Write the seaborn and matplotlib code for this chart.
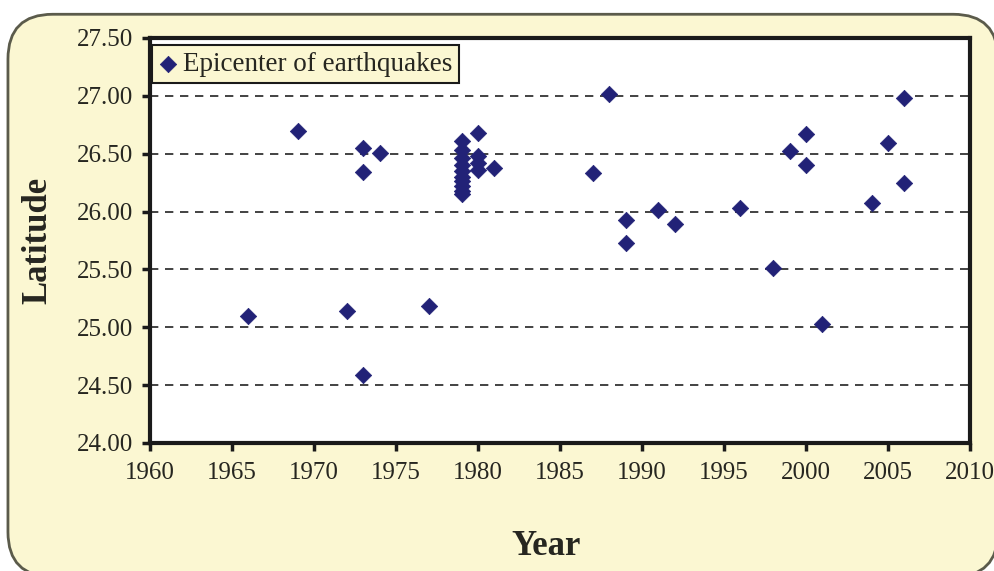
import matplotlib
matplotlib.use("Agg")
import matplotlib.pyplot as plt
import seaborn as sns
import pandas as pd
from matplotlib.patches import FancyBboxPatch

years = [1966, 1969, 1972, 1973, 1973, 1973, 1974, 1977,
         1979, 1979, 1979, 1979, 1979, 1979, 1979, 1979, 1979, 1979,
         1980, 1980, 1980, 1980, 1981,
         1987, 1988, 1989, 1989, 1991, 1992, 1996, 1998, 1999,
         2000, 2000, 2001, 2004, 2005, 2006, 2006]
latitude = [25.10, 26.70, 25.14, 26.55, 26.34, 24.59, 26.51, 25.18,
            26.61, 26.53, 26.46, 26.40, 26.35, 26.30, 26.26, 26.22, 26.18, 26.15,
            26.68, 26.48, 26.42, 26.36, 26.38,
            26.33, 27.02, 25.93, 25.73, 26.01, 25.89, 26.03, 25.51, 26.52,
            26.67, 26.40, 25.03, 26.07, 26.59, 26.98, 26.25]
yticks = [24.00, 24.50, 25.00, 25.50, 26.00, 26.50, 27.00, 27.50]
xticks = [1960, 1965, 1970, 1975, 1980, 1985, 1990, 1995, 2000, 2005, 2010]

df = pd.DataFrame({"Year": years, "Latitude": latitude})

sns.set_theme(style="white")
plt.rcParams["font.family"] = ["Liberation Serif", "DejaVu Serif"]

bg = "#FBF7D2"
txt = "#262620"
fig = plt.figure(figsize=(9.95, 5.71), dpi=100)
fig.patch.set_facecolor("white")
fig.patches.append(FancyBboxPatch((0.008, -0.01), 0.995, 0.985,
                                  boxstyle="round,pad=0,rounding_size=0.045",
                                  transform=fig.transFigure, facecolor=bg,
                                  edgecolor="#5b5b4b", linewidth=2.0,
                                  mutation_aspect=995/571, zorder=-10))

ax = fig.add_axes([0.1508, 0.2242, 0.824, 0.7093])
ax.set_facecolor("white")

sns.scatterplot(data=df, x="Year", y="Latitude", marker="D", s=70,
                color="#222277", edgecolor="#222277", linewidth=0.5,
                label="Epicenter of earthquakes", ax=ax, zorder=3)

ax.set_xlim(1960, 2010)
ax.set_ylim(24.0, 27.5)
ax.set_xticks(xticks)
ax.set_yticks(yticks)
ax.set_yticklabels([f"{v:.2f}" for v in yticks])
ax.tick_params(axis="both", bottom=True, left=True, labelsize=18,
               color="#1a1a1a", labelcolor=txt, length=6, width=2.5,
               direction="out")
ax.tick_params(axis="y", pad=6)
ax.tick_params(axis="x", pad=8)
for y in yticks[1:-1]:
    ax.axhline(y, color="#222222", linestyle=(0, (5, 4)), linewidth=1.2, zorder=1)
for side in ["left", "right", "top", "bottom"]:
    ax.spines[side].set_visible(True)
    ax.spines[side].set_linewidth(3)
    ax.spines[side].set_color("#1a1a1a")

ax.set_xlabel("Year", fontsize=25, fontweight="bold", color=txt)
ax.set_ylabel("Latitude", fontsize=25, fontweight="bold", color=txt)
ax.xaxis.set_label_coords(0.483, -0.215)
ax.yaxis.set_label_coords(-0.137, 0.5)
ax.yaxis.label.set_verticalalignment("center")

leg = ax.legend(loc="upper left", bbox_to_anchor=(0.002, 0.983), fontsize=19.5,
                frameon=True, fancybox=False, handletextpad=0.2,
                borderpad=0.25, handlelength=0.7, borderaxespad=0.0)
leg.get_frame().set_facecolor(bg)
leg.get_frame().set_edgecolor("#1a1a1a")
leg.get_frame().set_linewidth(1.5)
leg.get_frame().set_alpha(1)
for t in leg.get_texts():
    t.set_color(txt)

fig.savefig("out.png", dpi=100, facecolor=fig.get_facecolor())
